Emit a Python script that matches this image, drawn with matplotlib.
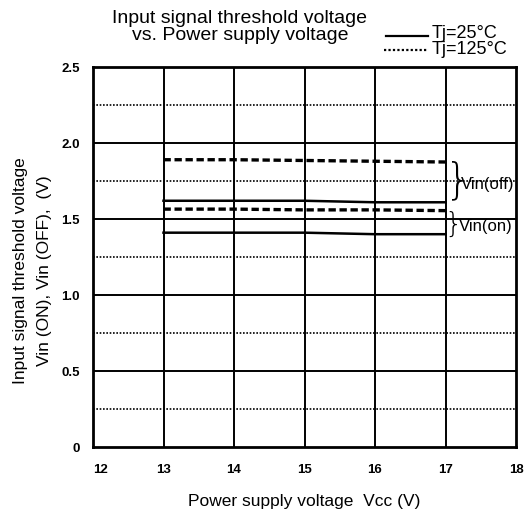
import numpy as np
import matplotlib.pyplot as plt
from matplotlib.lines import Line2D

plt.rcParams["font.family"] = ["Liberation Sans", "DejaVu Sans"]

vcc = [13, 14, 15, 16, 17]
vin_off_25 = [1.62, 1.62, 1.62, 1.61, 1.61]
vin_on_25 = [1.41, 1.41, 1.41, 1.40, 1.40]
vin_off_125 = [1.89, 1.89, 1.885, 1.88, 1.875]
vin_on_125 = [1.565, 1.565, 1.56, 1.56, 1.555]

xticks = [12, 13, 14, 15, 16, 17, 18]
yticks = [0, 0.5, 1.0, 1.5, 2.0, 2.5]
yticklabels = ["0", "0.5", "1.0", "1.5", "2.0", "2.5"]

fig = plt.figure(figsize=(5.31, 5.19), dpi=100)
ax = fig.add_axes([93 / 531, 1 - 447 / 519, 423 / 531, 380 / 519])

ax.set_xlim(12, 18)
ax.set_ylim(0, 2.5)

# grid: solid at major, dotted at quarter steps
for x in xticks[1:-1]:
    ax.axvline(x, color="black", lw=1.4, zorder=1)
for y in yticks[1:-1]:
    ax.axhline(y, color="black", lw=1.4, zorder=1)
for y in [0.25, 0.75, 1.25, 1.75, 2.25]:
    ax.axhline(y, color="black", lw=1.2, ls=(0, (1, 1)), zorder=1)

ax.plot(vcc, vin_off_25, color="black", lw=1.8, zorder=3)
ax.plot(vcc, vin_on_25, color="black", lw=1.8, zorder=3)
ax.plot(vcc, vin_off_125, color="black", lw=2.4, ls=(0, (2.2, 1.1)), zorder=3)
ax.plot(vcc, vin_on_125, color="black", lw=2.4, ls=(0, (2.2, 1.1)), zorder=3)

for s in ax.spines.values():
    s.set_linewidth(2)

ax.set_xticks(xticks)
ax.set_xticklabels([str(x) for x in xticks], fontweight="bold", fontsize=9.5)
ax.get_xticklabels()[0].set_ha("left")
ax.set_yticks(yticks)
ax.set_yticklabels(yticklabels, fontweight="bold", fontsize=9.5)
ax.tick_params(axis="x", length=0, pad=12)
ax.tick_params(axis="y", length=0, pad=9.5)

ax.set_xlabel("Power supply voltage  Vcc (V)", fontsize=12.5, labelpad=13)
ax.set_ylabel("Input signal threshold voltage\nVin (ON), Vin (OFF),  (V)",
              fontsize=12.5, linespacing=1.75)
ax.yaxis.set_label_coords(-0.097, 0.465)

# braces
ax.text(16.99, 1.75, "}", fontsize=30, va="center", ha="left", family="DejaVu Sans",
        fontweight="light")
ax.text(17.22, 1.73, "Vin(off)", fontsize=12, va="center", ha="left")
ax.text(16.99, 1.46, "}", fontsize=20, va="center", ha="left", family="DejaVu Sans",
        fontweight="light")
ax.text(17.19, 1.45, "Vin(on)", fontsize=12, va="center", ha="left")

# title
fig.text(240 / 531, 1 - 27 / 519, "Input signal threshold voltage\nvs. Power supply voltage",
         ha="center", va="center", fontsize=14, linespacing=0.95)

# legend
fig.add_artist(Line2D([386 / 531, 428 / 531], [1 - 36 / 519] * 2, color="black", lw=1.6))
fig.text(432 / 531, 1 - 34 / 519, "Tj=25°C", fontsize=13, va="center")
fig.add_artist(Line2D([384 / 531, 428 / 531], [1 - 50 / 519] * 2, color="black", lw=1.6,
                      ls=(0, (1, 1))))
fig.text(432 / 531, 1 - 50 / 519, "Tj=125°C", fontsize=13, va="center")

fig.savefig("out.png", dpi=100)
